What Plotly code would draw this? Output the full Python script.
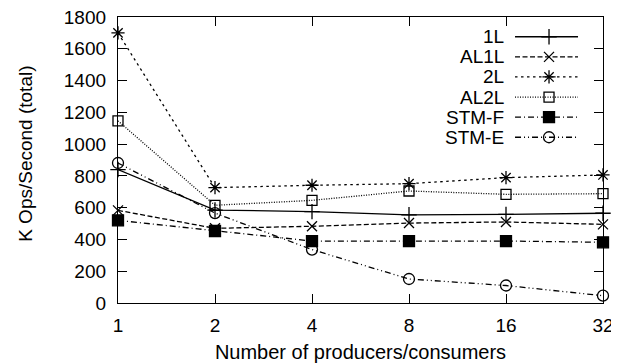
import plotly.graph_objects as go

# ---- data ----
threads = [1, 2, 4, 8, 16, 32]
tick_labels = ["1", "2", "4", "8", "16", "32"]
y_ticks = [0, 200, 400, 600, 800, 1000, 1200, 1400, 1600, 1800]
x_title = "Number of producers/consumers"
y_title = "K Ops/Second (total)"

series_names = ["1L", "AL1L", "2L", "AL2L", "STM-F", "STM-E"]
v_1L = [840, 585, 575, 555, 558, 565]
v_AL1L = [583, 470, 483, 503, 510, 495]
v_2L = [1700, 726, 741, 751, 789, 806]
v_AL2L = [1146, 615, 646, 705, 684, 688]
v_STMF = [520, 453, 390, 390, 390, 382]
v_STME = [881, 566, 336, 151, 110, 46]
series_values = [v_1L, v_AL1L, v_2L, v_AL2L, v_STMF, v_STME]

# ---- styles ----
dashes = ["solid", "5px,2.5px", "2.5px,3.5px", "1px,1.5px",
          "6px,3px,1px,3px", "6px,3px,1px,3px,1px,3px"]
symbols = ["cross-thin-open", "x-thin-open", "asterisk-open",
           "square-open", "square", "circle-open"]
msizes = [11, 10, 11, 10, 11, 11]

FONT = "Liberation Sans, Arial, sans-serif"
LW = 1.3

fig = go.Figure()

for name, vals, d, s, ms in zip(series_names, series_values, dashes, symbols, msizes):
    fig.add_trace(go.Scatter(
        x=threads, y=vals, name=name, mode="lines+markers",
        line=dict(color="black", width=LW, dash=d),
        marker=dict(symbol=s, size=ms, color="black",
                    line=dict(color="black", width=LW)),
        cliponaxis=False, showlegend=False,
    ))

# ---- manual gnuplot-style legend (text left, sample right) on overlay axis ----
row0 = 0.931
row_step = 0.0703
x_l, x_m, x_r = 0.8186, 0.8887, 0.9485
annotations = []
for i, (name, d, s, ms) in enumerate(zip(series_names, dashes, symbols, msizes)):
    yy = row0 - i * row_step
    fig.add_trace(go.Scatter(
        x=[x_l, x_r], y=[yy, yy], xaxis="x2", yaxis="y2", mode="lines",
        line=dict(color="black", width=LW, dash=d),
        showlegend=False, hoverinfo="skip", cliponaxis=False,
    ))
    fig.add_trace(go.Scatter(
        x=[x_m], y=[yy], xaxis="x2", yaxis="y2", mode="markers",
        marker=dict(symbol=s, size=ms, color="black",
                    line=dict(color="black", width=LW)),
        showlegend=False, hoverinfo="skip", cliponaxis=False,
    ))
    annotations.append(dict(
        x=0.7994, y=yy, xref="paper", yref="paper", text=name,
        showarrow=False, xanchor="right", yanchor="middle",
        font=dict(family=FONT, size=19, color="black"),
    ))

# y-axis title as rotated annotation
annotations.append(dict(
    x=-0.19, y=0.521, xref="paper", yref="paper", text=y_title,
    textangle=-90, showarrow=False, xanchor="center", yanchor="middle",
    font=dict(family=FONT, size=19, color="black"),
))

# page has an 8px body margin, so the figure is 8px smaller than the window
fig.update_layout(
    width=611, height=356,
    margin=dict(l=110, r=16, t=9, b=61, autoexpand=False),
    paper_bgcolor="white", plot_bgcolor="white",
    font=dict(family=FONT, color="black"),
    showlegend=False,
    annotations=annotations,
    xaxis=dict(
        type="log", range=[0, 1.50515],
        tickvals=threads, ticktext=tick_labels,
        ticks="inside", ticklen=9, tickwidth=LW, tickcolor="black",
        showline=True, linecolor="black", linewidth=LW, mirror="allticks",
        showgrid=False, zeroline=False, automargin=False,
        tickfont=dict(size=19, family=FONT),
        ticklabelstandoff=5, ticklabeloverflow="allow",
        title=dict(text=x_title,
                   font=dict(size=20, family=FONT), standoff=10),
    ),
    yaxis=dict(
        range=[0, 1800], tickvals=y_ticks,
        ticks="inside", ticklen=9, tickwidth=LW, tickcolor="black",
        showline=True, linecolor="black", linewidth=LW, mirror="allticks",
        showgrid=False, zeroline=False, automargin=False,
        tickfont=dict(size=19, family=FONT),
        ticklabelstandoff=7, ticklabeloverflow="allow",
    ),
    xaxis2=dict(overlaying="x", range=[0, 1], visible=False, anchor="y2"),
    yaxis2=dict(overlaying="y", range=[0, 1], visible=False, anchor="x2"),
)

fig.write_html("out.html")
